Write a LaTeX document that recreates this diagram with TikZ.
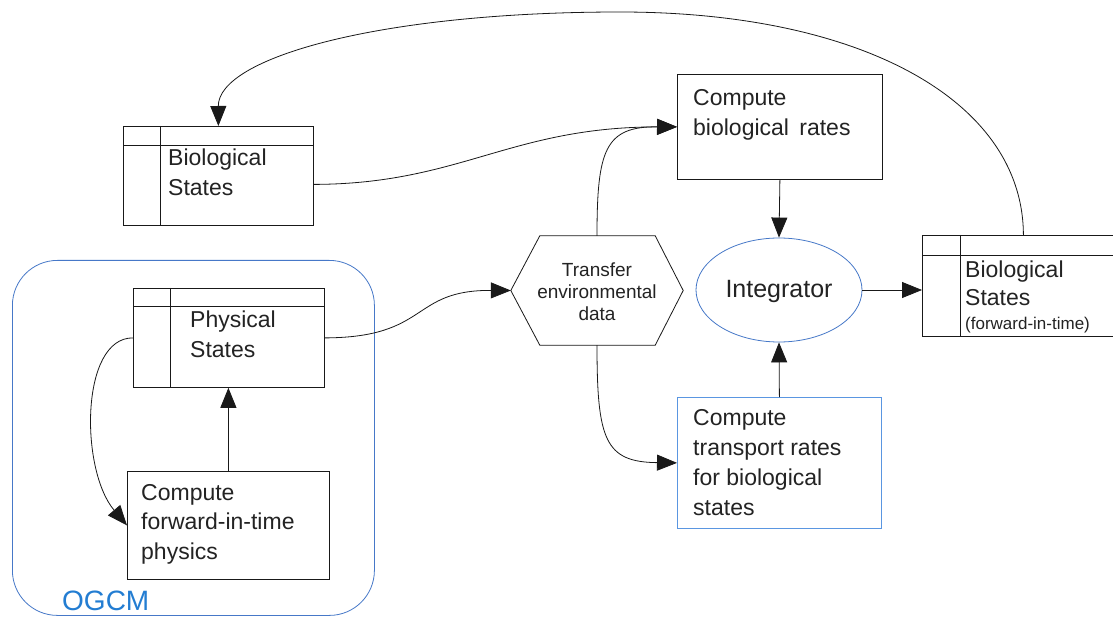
\documentclass[tikz,border=0pt]{standalone}
\usepackage{fontspec}
\setmainfont{Liberation Sans}
\usetikzlibrary{arrows.meta,shapes.geometric}
\definecolor{linegray}{RGB}{25,25,25}
\definecolor{txtgray}{RGB}{35,35,35}
\definecolor{ogblue}{RGB}{70,120,200}
\definecolor{ogtext}{RGB}{35,125,210}
\definecolor{tblue}{RGB}{90,150,225}
\begin{document}
\begin{tikzpicture}[x=1pt,y=-1pt,
  box/.style={draw=linegray, line width=0.8pt, inner sep=0pt, anchor=north west},
  txt/.style={inner sep=0pt, anchor=north west, align=left, text=txtgray, font=\fontsize{23}{30}\selectfont},
  arr/.style={draw=linegray, line width=0.8pt, -{Triangle[length=20pt,width=16pt]}},
  ln/.style={draw=linegray, line width=0.8pt}]
\useasboundingbox (0,0) rectangle (1113,617);
\fill[white] (0,0) rectangle (1113,617);

% OGCM container
\node[draw=ogblue, line width=0.8pt, rounded corners=45pt, minimum width=362pt, minimum height=355pt, inner sep=0pt, anchor=north west] (ogcm) at (12,260) {};
\node[anchor=base west, inner sep=0pt, text=ogtext, font=\fontsize{28}{30}\selectfont] (ogcmt) at (62,610) {OGCM};

% Biological States (left)
\node[box, minimum width=190pt, minimum height=99pt] (bs) at (123,126) {};
\draw[ln] ([yshift=-19pt]bs.north west) -- ([yshift=-19pt]bs.north east);
\draw[ln] ([xshift=37pt]bs.north west) -- ([xshift=37pt]bs.south west);
\node[txt] (bst) at (168,149) {Biological\\States};

% Compute biological rates
\node[box, minimum width=205pt, minimum height=105pt] (cbr) at (677,74) {};
\node[txt] (cbrt) at (693,89) {Compute\\biological\hspace{0.45em}rates};

% Hexagon
\node[minimum width=172pt, minimum height=109pt, inner sep=0pt] (hex) at (597,290.5) {};
\draw[ln] (hex.west) -- ([xshift=29pt]hex.north west) -- ([xshift=-28pt]hex.north east) -- (hex.east) -- ([xshift=-28pt]hex.south east) -- ([xshift=29pt]hex.south west) -- cycle;
\node[align=center, inner sep=0pt, text=txtgray, font=\fontsize{19}{22}\selectfont] (hext) at (597,292) {Transfer\\environmental\\data};

% Integrator
\node[ellipse, draw=ogblue, line width=0.8pt, minimum width=166pt, minimum height=104pt, inner sep=0pt] (integ) at (779,290) {};
\node[inner sep=0pt, text=txtgray, font=\fontsize{25}{30}\selectfont] (integt) at (779,291) {Integrator};

% Biological States (forward-in-time)
\node[box, minimum width=194pt, minimum height=101pt] (bsf) at (922,235) {};
\draw[ln] ([yshift=-20pt]bsf.north west) -- ([yshift=-20pt]bsf.north east);
\draw[ln] ([xshift=38pt]bsf.north west) -- ([xshift=38pt]bsf.south west);
\node[txt, font=\fontsize{23}{28}\selectfont] (bsft) at (965,261) {Biological\\States};
\node[txt, font=\fontsize{17}{20}\selectfont] (bsfn) at (965,316.5) {(forward-in-time)};

% Physical States
\node[box, minimum width=191pt, minimum height=99pt] (ps) at (133,288) {};
\draw[ln] ([yshift=-18pt]ps.north west) -- ([yshift=-18pt]ps.north east);
\draw[ln] ([xshift=37pt]ps.north west) -- ([xshift=37pt]ps.south west);
\node[txt] (pst) at (190,311) {Physical\\States};

% Compute forward-in-time physics
\node[box, minimum width=202pt, minimum height=108pt] (cfp) at (127,471) {};
\node[txt, font=\fontsize{23}{29.5}\selectfont] (cfpt) at (141,484) {Compute\\forward-in-time\\physics};

% Compute transport rates
\node[box, draw=tblue, minimum width=204pt, minimum height=131pt] (ctr) at (677,397) {};
\node[txt] (ctrt) at (693,409) {Compute\\transport rates\\for biological\\states};

% Connectors
\draw[arr] ([yshift=-8.5pt]bs.east) .. controls (460,184) and (510,127) .. (cbr.west);
\draw[arr] (hex.north) .. controls (597,150) and (605,126.5) .. (cbr.west);
\draw[arr] (hex.south) .. controls (597,440) and (605,462) .. (ctr.west);
\draw[arr] (ps.east) .. controls (430,337.5) and (410,290) .. (hex.west);
\draw[arr] (cbr.south) -- (integ.north);
\draw[arr] (ctr.north) -- (integ.south);
\draw[arr] (integ.east) -- (bsf.west |- integ.east);
\draw[arr] ([xshift=4pt]bsf.north) .. controls (1023,101) and (862,12) .. (620,12) .. controls (379,12) and (218,58) .. (bs.north);
\draw[arr] (cfp.north) -- (cfp.north |- ps.south);
\draw[arr] (ps.west) .. controls (80,337.5) and (80,470) .. (cfp.west);
\end{tikzpicture}
\end{document}
